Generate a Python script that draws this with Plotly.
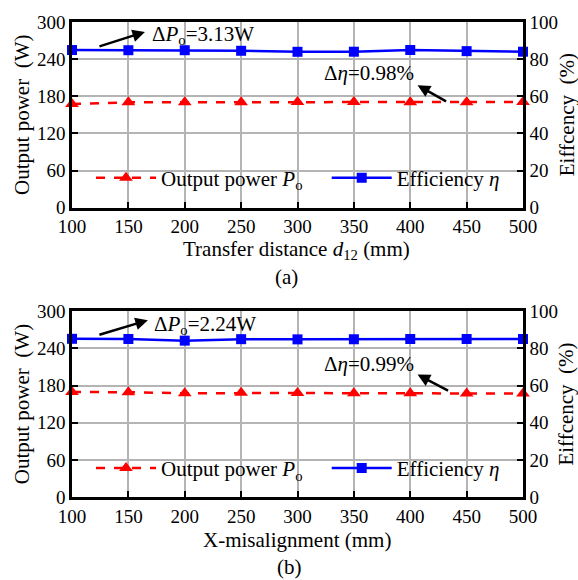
import plotly.graph_objects as go

# ---------------- data ----------------
x_vals = [100, 150, 200, 250, 300, 350, 400, 450, 500]

power_a = [167.6, 170.2, 170.5, 170.4, 170.6, 170.7, 170.3, 170.5, 170.6]
eff_a = [84.9, 84.8, 84.8, 84.5, 83.95, 84.0, 84.93, 84.3, 84.0]

power_b = [169.5, 169.4, 167.6, 168.3, 168.1, 167.6, 167.5, 167.3, 167.26]
eff_b = [85.2, 85.1, 84.21, 85.0, 84.9, 84.95, 85.1, 85.1, 85.1]

x_ticks = [100, 150, 200, 250, 300, 350, 400, 450, 500]
left_ticks = [0, 60, 120, 180, 240, 300]
right_ticks = [0, 20, 40, 60, 80, 100]

xlabel_a = "Transfer distance <i>d</i><sub>12</sub> (mm)"
xlabel_b = "X-misalignment (mm)"
ylabel_left = "Output power  (W)"
ylabel_right = "Eiffcency  (%)"
name_power = "Output power <i>P</i><sub>o</sub>"
name_eff = "Efficiency <i>η</i>"

FONT = "Liberation Serif, Times New Roman, serif"
RED = "#ff0000"
BLUE = "#0000ff"
TXT = 21

fig = go.Figure()

def add_pair(power, eff, xa, yl, yr, leg_p, leg_e):
    fig.add_trace(go.Scatter(
        x=x_vals, y=power, xaxis=xa, yaxis=yl, name=name_power, legend=leg_p,
        mode="lines+markers",
        line=dict(color=RED, width=2.5, dash="dash"),
        marker=dict(symbol="triangle-up", size=12, color=RED),
        cliponaxis=False,
    ))
    fig.add_trace(go.Scatter(
        x=x_vals, y=eff, xaxis=xa, yaxis=yr, name=name_eff, legend=leg_e,
        mode="lines+markers",
        line=dict(color=BLUE, width=2.5),
        marker=dict(symbol="square", size=10, color=BLUE),
        cliponaxis=False,
    ))

add_pair(power_a, eff_a, "x", "y", "y2", "legend", "legend2")
add_pair(power_b, eff_b, "x2", "y3", "y4", "legend3", "legend4")

dom_a = [0.6091, 1.0]
dom_b = [0.0, 0.3909]

xcommon = dict(
    range=[100, 500], tickvals=x_ticks, ticks="inside", ticklen=6, tickwidth=2,
    tickcolor="black", showline=True, linecolor="black", linewidth=2.5,
    mirror=True, showgrid=True, gridcolor="#b4b4b4", gridwidth=1.5,
    zeroline=False, tickfont=dict(family=FONT, size=19, color="black"),
    domain=[0, 1],
)
ylcommon = dict(
    range=[0, 300], tickvals=left_ticks, ticks="inside", ticklen=6, tickwidth=2,
    tickcolor="black", showline=True, linecolor="black", linewidth=2.5,
    mirror=True, showgrid=True, gridcolor="#b4b4b4", gridwidth=1.5,
    zeroline=False, tickfont=dict(family=FONT, size=19, color="black"),
)
yrcommon = dict(
    range=[0, 100], tickvals=right_ticks, ticks="inside", ticklen=6, tickwidth=2,
    tickcolor="black", showline=True, linecolor="black", linewidth=2.5,
    showgrid=False, zeroline=False, side="right",
    tickfont=dict(family=FONT, size=19, color="black"),
)

legcommon = dict(xanchor="left", yanchor="middle",
                 bgcolor="rgba(0,0,0,0)", font=dict(family=FONT, size=TXT),
                 itemwidth=60)

def px_x(p):
    return (p - 72) / 451.5
def px_y(p):
    return (497 - p) / 481

fig.update_layout(
    width=578, height=580,
    margin=dict(l=72, r=54.5, t=16, b=83),
    paper_bgcolor="white", plot_bgcolor="white",
    font=dict(family=FONT, size=TXT, color="black"),
    xaxis=dict(**xcommon, anchor="y"),
    yaxis=dict(**ylcommon, domain=dom_a, anchor="x"),
    yaxis2=dict(**yrcommon, overlaying="y", anchor="x"),
    xaxis2=dict(**xcommon, anchor="y3"),
    yaxis3=dict(**ylcommon, domain=dom_b, anchor="x2"),
    yaxis4=dict(**yrcommon, overlaying="y3", anchor="x2"),
    legend=dict(**legcommon, x=px_x(91), y=px_y(174)),
    legend2=dict(**legcommon, x=px_x(327), y=px_y(174)),
    legend3=dict(**legcommon, x=px_x(91), y=px_y(468)),
    legend4=dict(**legcommon, x=px_x(327), y=px_y(468)),
    showlegend=True,
)

ann = []
def txt(x, y, text, xref="paper", yref="paper", xanchor="center", size=TXT, angle=0):
    ann.append(dict(x=x, y=y, xref=xref, yref=yref, text=text, showarrow=False,
                    xanchor=xanchor, yanchor="middle", textangle=angle,
                    font=dict(family=FONT, size=size, color="black")))

def arrow(x, y, ax, ay, xref, yref):
    ann.append(dict(x=x, y=y, xref=xref, yref=yref, ax=ax, ay=ay, text="",
                    showarrow=True, arrowhead=2, arrowsize=1, arrowwidth=2.5,
                    arrowcolor="black"))

# panel (a)
txt(169.1, 279.3, "Δ<i>P</i><sub>o</sub>=3.13W", "x", "y", "left")
arrow(164.7, 284, -47, 15, "x", "y")
txt(363.1, 217, "Δ<i>η</i>=0.98%", "x", "y")
arrow(406.5, 197.9, 30, 17, "x", "y")
# panel (b)
txt(170.9, 277.7, "Δ<i>P</i><sub>o</sub>=2.24W", "x2", "y3", "left")
arrow(167.3, 285.6, -50, 15, "x2", "y3")
txt(363.1, 215.4, "Δ<i>η</i>=0.99%", "x2", "y3")
arrow(406.5, 197.9, 32, 17, "x2", "y3")

# axis titles and captions (paper coords)
txt(px_x(297), px_y(247), xlabel_a)
txt(px_x(287), px_y(274), "(a)")
txt(px_x(297), px_y(541), xlabel_b)
txt(px_x(290), px_y(568), "(b)")
txt(px_x(22), px_y(110), ylabel_left, angle=-90)
txt(px_x(567), px_y(110), ylabel_right, angle=-90)
txt(px_x(22), px_y(403), ylabel_left, angle=-90)
txt(px_x(567), px_y(403), ylabel_right, angle=-90)

fig.update_layout(annotations=ann)

fig.write_html("out.html", config={"displayModeBar": False},
               post_script="document.body.style.margin='0';")
